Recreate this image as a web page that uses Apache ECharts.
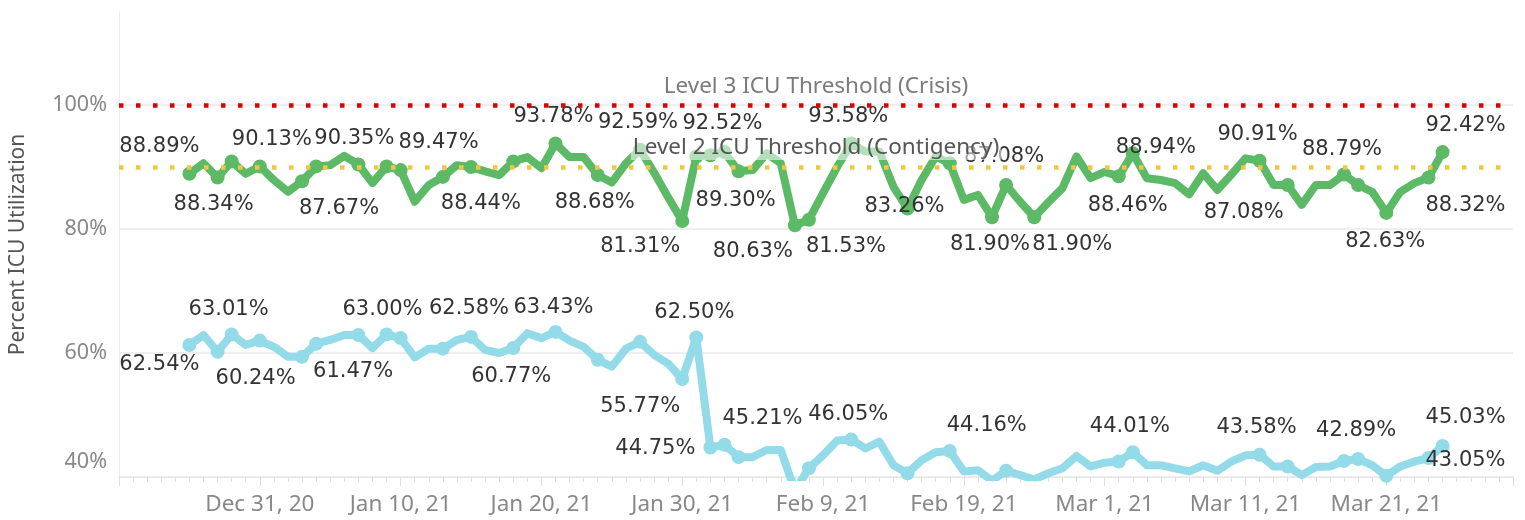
<!DOCTYPE html>
<html>
<head>
<meta charset="utf-8">
<script src="https://cdn.jsdelivr.net/npm/echarts@6/dist/echarts.min.js"></script>
<style>
html, body { margin: 0; padding: 0; background: #fff; }
#chart { width: 1525px; height: 520px; }
</style>
</head>
<body>
<div id="chart"></div>
<script>
// days are counted from Dec 31, 2020 (day 0); data starts Dec 26, 2020
const firstDay = -5
const tickLabels = ['Dec 31, 20', 'Jan 10, 21', 'Jan 20, 21', 'Jan 30, 21', 'Feb 9, 21',
  'Feb 19, 21', 'Mar 1, 21', 'Mar 11, 21', 'Mar 21, 21']

const thresholds = [100, 90]
const thresholdNames = ['Level 3 ICU Threshold (Crisis)', 'Level 2 ICU Threshold (Contigency)']

// daily values, Dec 26 .. Mar 25
const greenValues = [
  88.9, 90.6, 88.3, 90.9, 88.9, 90.1, 87.9, 86.0, 87.7, 90.1,
  90.3, 91.8, 90.4, 87.4, 90.1, 89.5, 84.4, 87.1, 88.4, 90.3,
  90.0, 89.3, 88.7, 90.9, 91.6, 89.8, 93.8, 91.6, 91.6, 88.7,
  87.5, 90.6, 92.8, 89.1, 85.1, 81.3, 91.7, 91.9, 92.4, 89.3,
  89.5, 92.2, 90.6, 80.6, 81.5, 85.8, 90.0, 93.8, 92.5, 92.5,
  86.8, 83.3, 87.9, 91.7, 90.6, 84.7, 85.5, 81.9, 87.1, 84.4,
  81.9, 84.3, 86.6, 91.7, 88.2, 89.2, 88.5, 92.2, 88.2, 87.9,
  87.4, 85.6, 89.0, 86.3, 88.8, 91.4, 91.0, 87.1, 87.1, 83.9,
  87.1, 87.1, 88.8, 87.1, 86.0, 82.6, 86.0, 87.4, 88.3, 92.4
]
const blueValues = [
  61.3, 62.9, 60.2, 63.0, 61.3, 62.0, 61.0, 59.4, 59.4, 61.5,
  62.1, 62.9, 62.9, 60.8, 63.0, 62.4, 59.3, 60.7, 60.7, 62.1,
  62.6, 60.5, 60.0, 60.8, 63.2, 62.4, 63.4, 62.0, 61.0, 58.9,
  57.8, 60.7, 61.8, 59.7, 58.3, 55.8, 62.5, 44.75, 45.2, 43.2,
  43.2, 44.35, 44.35, 37.8, 41.4, 43.5, 45.9, 46.05, 44.6, 45.7,
  41.9, 40.6, 42.7, 44.0, 44.2, 40.9, 41.1, 39.4, 41.0, 40.3,
  39.6, 40.6, 41.4, 43.4, 41.7, 42.3, 42.5, 44.0, 41.9, 41.9,
  41.4, 40.9, 41.9, 41.0, 42.5, 43.5, 43.6, 41.7, 41.7, 40.3,
  41.6, 41.7, 42.6, 42.9, 41.9, 40.2, 41.7, 42.5, 43.05, 45.0
]

// labelled points (index into the series) and their texts
const greenLabelIdx = [0, 2, 5, 8, 12, 15, 18, 26, 29, 32, 35, 38, 39, 43, 44, 47, 51, 57, 58, 60, 66, 67, 76, 78, 82, 85, 88, 89]
const greenLabelText = ['88.89%', '88.34%', '90.13%', '87.67%', '90.35%', '89.47%', '88.44%', '93.78%', '88.68%', '92.59%',
  '81.31%', '92.52%', '89.30%', '80.63%', '81.53%', '93.58%', '83.26%', '81.90%', '87.08%', '81.90%',
  '88.46%', '88.94%', '90.91%', '87.08%', '88.79%', '82.63%', '88.32%', '92.42%']
const blueLabelIdx = [0, 2, 3, 9, 14, 20, 23, 26, 35, 36, 37, 38, 47, 54, 67, 76, 83, 88, 89]
const blueLabelText = ['62.54%', '60.24%', '63.01%', '61.47%', '63.00%', '62.58%', '60.77%', '63.43%', '55.77%', '62.50%',
  '44.75%', '45.21%', '46.05%', '44.16%', '44.01%', '43.58%', '42.89%', '43.05%', '45.03%']

// label placement relative to its point (px)
const greenLabelOffset = [[-30, -27], [-4, 27], [12, -27], [37, 27], [-4, -26], [38, -28], [38, 27], [-2, -27], [-3, 27], [-2, -27],
  [-42, 26], [-2, -29], [-3, 29], [-42, 26], [37, 27], [-3, -27], [-3, -2], [-2, 27], [-2, -28], [38, 27],
  [9, 29], [23, -6], [-2, -26], [-44, 28], [-2, -25], [-1, 29], [37, 28], [23, -27]]
const blueLabelOffset = [[-30, 20], [38, 27], [-3, -25], [37, 28], [-4, -25], [-2, -28], [-2, 29], [-2, -24], [-42, 28], [-2, -25],
  [-55, 1], [38, -26], [-3, -25], [37, -25], [-3, -26], [-3, -27], [-2, -28], [37, 2], [23, -28]]

// both lines get a dot on every day that carries a label
const dotIdx = greenLabelIdx.concat(blueLabelIdx)

function buildData(values, labelIdx, labelText, labelOffset) {
  return values.map((v, i) => {
    const item = { value: [firstDay + i, v] }
    if (dotIdx.indexOf(i) < 0) item.symbol = 'none'
    const k = labelIdx.indexOf(i)
    if (k >= 0) {
      item.label = { show: true, position: 'inside', offset: labelOffset[k], formatter: labelText[k] }
    }
    return item
  })
}

const labelStyle = {
  show: false,
  fontFamily: 'DejaVu Sans',
  fontSize: 21,
  color: '#333',
  textBorderWidth: 0,
  align: 'center',
  verticalAlign: 'middle'
}

const myChart = echarts.init(document.getElementById('chart'))
myChart.setOption({
  animation: false,
  grid: { left: 119, right: 12, top: 12, bottom: 43 },
  xAxis: {
    type: 'value',
    min: -10,
    max: 89,
    interval: 10,
    axisLine: { onZero: false, lineStyle: { color: '#e6e6e6', width: 1 } },
    axisTick: { show: true, length: 9, lineStyle: { color: '#dedede' } },
    minorTick: { show: true, splitNumber: 10, length: 5, lineStyle: { color: '#dedede' } },
    splitLine: { show: false },
    axisLabel: {
      margin: 16,
      fontFamily: 'Noto Sans',
      fontSize: 22.5,
      color: '#888',
      formatter: function (v) {
        const k = v / 10
        return (Number.isInteger(k) && k >= 0 && k < tickLabels.length) ? tickLabels[k] : ''
      }
    }
  },
  yAxis: {
    type: 'value',
    min: 40,
    max: 115,
    interval: 20,
    name: 'Percent ICU Utilization',
    nameLocation: 'middle',
    nameGap: 90,
    nameTextStyle: { fontFamily: 'Noto Sans', fontSize: 21, color: '#555' },
    axisLine: { show: true, onZero: false, lineStyle: { color: '#ebebeb', width: 1 } },
    axisTick: { show: false },
    axisLabel: {
      margin: 12,
      fontFamily: 'Noto Sans',
      fontSize: 21.5,
      color: '#888',
      formatter: function (v) {
        if (v > 100) return ''
        if (v === 40) return '{low|40%}'
        return v + '%'
      },
      rich: {
        low: { fontFamily: 'Noto Sans', fontSize: 21.5, color: '#888', padding: [0, 0, 30, 0] }
      }
    },
    splitLine: { lineStyle: { color: ['#eeeeee', '#eeeeee', '#eeeeee', '#eeeeee', 'rgba(0,0,0,0)'], width: 2 } }
  },
  series: [
    {
      name: 'blue',
      type: 'line',
      z: 2,
      data: buildData(blueValues, blueLabelIdx, blueLabelText, blueLabelOffset),
      symbol: 'circle',
      symbolSize: 14,
      showSymbol: true,
      showAllSymbol: true,
      clip: true,
      lineStyle: { width: 8, color: '#93dbe9', cap: 'round', join: 'round' },
      itemStyle: { color: '#93dbe9' },
      label: labelStyle,
      emphasis: { disabled: true }
    },
    {
      name: 'green',
      type: 'line',
      z: 3,
      data: buildData(greenValues, greenLabelIdx, greenLabelText, greenLabelOffset),
      symbol: 'circle',
      symbolSize: 14,
      showSymbol: true,
      showAllSymbol: true,
      clip: true,
      lineStyle: { width: 8, color: '#5cb966', cap: 'round', join: 'round' },
      itemStyle: { color: '#5cb966' },
      label: labelStyle,
      emphasis: { disabled: true }
    },
    {
      name: 'thresholds',
      type: 'line',
      z: 5,
      data: [],
      silent: true,
      markLine: {
        silent: true,
        symbol: 'none',
        animation: false,
        lineStyle: { width: 4.5, type: [4.5, 12.5], opacity: 1 },
        label: { position: 'insideMiddleTop', distance: 7, fontFamily: 'Noto Sans', fontSize: 22.5 },
        data: [
          {
            yAxis: thresholds[0],
            lineStyle: { color: '#e00000' },
            label: { formatter: thresholdNames[0], color: '#7b7b7b' }
          },
          {
            yAxis: thresholds[1],
            lineStyle: { color: '#f0c744' },
            label: { formatter: thresholdNames[1], color: '#555', backgroundColor: 'rgba(255,255,255,0.55)', padding: [1, 2] }
          }
        ]
      }
    }
  ]
})
</script>
</body>
</html>
